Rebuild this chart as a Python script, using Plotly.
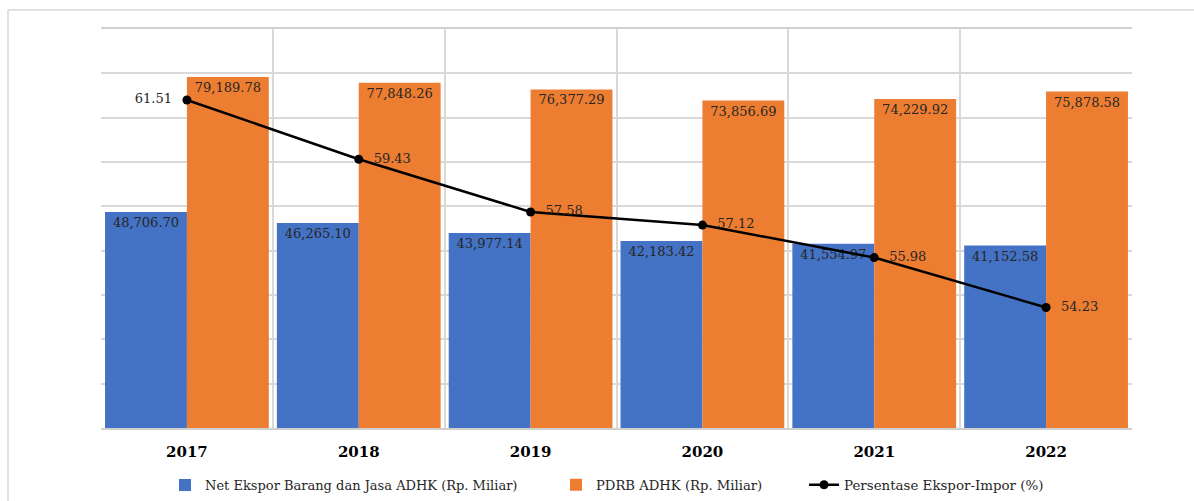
import plotly.graph_objects as go

years = ["2017", "2018", "2019", "2020", "2021", "2022"]
net_ekspor = [48706.70, 46265.10, 43977.14, 42183.42, 41554.97, 41152.58]
pdrb = [79189.78, 77848.26, 76377.29, 73856.69, 74229.92, 75878.58]
persentase = [61.51, 59.43, 57.58, 57.12, 55.98, 54.23]
line_label_pos = ["middle left", "middle right", "middle right", "middle right", "middle right", "middle right"]

FONT = "DejaVu Serif"
TXT = "#262626"

fig = go.Figure()
fig.add_trace(go.Bar(
    x=years, y=net_ekspor, name="Net Ekspor Barang dan Jasa ADHK (Rp. Miliar)",
    marker=dict(color="#4472C4", line=dict(width=0)),
    texttemplate="%{y:,.2f}", textposition="inside", insidetextanchor="end",
    textangle=0, constraintext="none",
    textfont=dict(family=FONT, size=13, color=TXT),
    legend="legend",
))
fig.add_trace(go.Bar(
    x=years, y=pdrb, name="PDRB ADHK (Rp. Miliar)",
    marker=dict(color="#ED7D31", line=dict(width=0)),
    texttemplate="%{y:,.2f}", textposition="inside", insidetextanchor="end",
    textangle=0, constraintext="none",
    textfont=dict(family=FONT, size=13, color=TXT),
    legend="legend2",
))
fig.add_trace(go.Scatter(
    x=years, y=persentase, name="Persentase Ekspor-Impor (%)", yaxis="y2",
    mode="lines+markers+text",
    line=dict(color="black", width=2.5),
    marker=dict(color="black", size=9),
    texttemplate="  %{y:.2f}  ", textposition=line_label_pos,
    textfont=dict(family=FONT, size=13, color=TXT),
    legend="legend3",
))

leg_common = dict(
    orientation="h", y=-0.143, yanchor="middle", xanchor="left",
    bgcolor="rgba(0,0,0,0)",
)

fig.update_layout(
    width=1194, height=501,
    margin=dict(l=101, r=62, t=29, b=73, autoexpand=False),
    paper_bgcolor="white", plot_bgcolor="white",
    barmode="group", bargap=0.047, bargroupgap=0,
    font=dict(family=FONT, size=13, color=TXT),
    xaxis=dict(
        type="category", tickson="boundaries", showgrid=True,
        gridcolor="#d9d9d9", gridwidth=1.5, ticks="",
        showline=True, linecolor="#d0d0d0", linewidth=1.5, mirror=True,
        tickfont=dict(family=FONT, size=15, color="black", weight="bold"),
        ticklabelstandoff=9,
    ),
    yaxis=dict(
        range=[0, 90000], dtick=10000, showticklabels=False,
        gridcolor="#d9d9d9", gridwidth=1.5, zeroline=False, ticks="",
    ),
    yaxis2=dict(
        range=[50, 64], overlaying="y", side="right", showgrid=False,
        showticklabels=False, zeroline=False, ticks="",
    ),
    legend=dict(x=0.0621, font=dict(family=FONT, size=13, color=TXT), **leg_common),
    legend2=dict(x=0.4413, font=dict(family=FONT, size=13.2, color=TXT), **leg_common),
    legend3=dict(x=0.6819, font=dict(family=FONT, size=13.4, color=TXT), **leg_common),
    showlegend=True,
    shapes=[
        dict(type="line", xref="paper", yref="paper", x0=-0.0902, x1=-0.0902,
             y0=-0.3, y1=1.0476, line=dict(color="#d9d9d9", width=1.5)),
        dict(type="line", xref="paper", yref="paper", x0=-0.0902, x1=1.1,
             y0=1.0476, y1=1.0476, line=dict(color="#d9d9d9", width=1.5)),
    ],
)

fig.write_html(
    "out.html",
    config={"displayModeBar": False},
    post_script="document.body.style.margin='0';document.body.style.overflow='hidden';",
)
